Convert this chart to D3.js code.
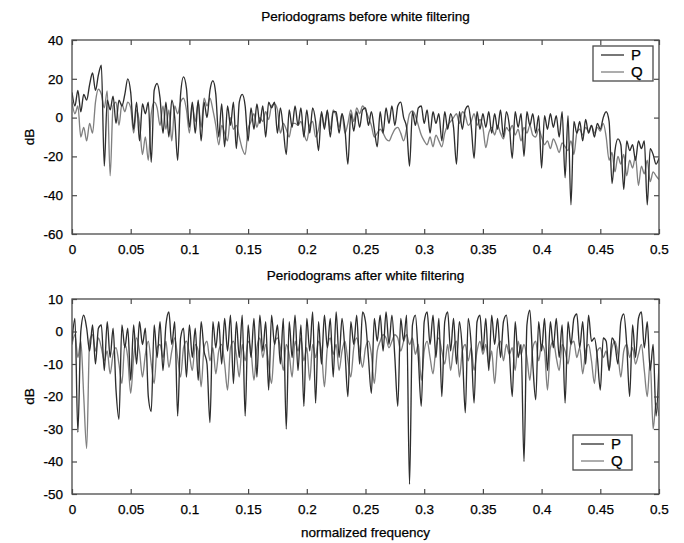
<!DOCTYPE html>
<html>
<head>
<meta charset="utf-8">
<script src="https://cdn.jsdelivr.net/npm/d3@7/dist/d3.min.js"></script>
<style>
  body { margin: 0; background: #fff; }
  svg text { font-family: "Liberation Sans", Arial, Helvetica, sans-serif; fill: #000; stroke: #000; stroke-width: 0.25px; }
</style>
</head>
<body>
<svg id="chart" width="684" height="543"></svg>
<script>
// Frequency grid: 201 bins from 0 to 0.5 (normalized frequency)
const freqStep = 0.0025;

const xTicks = [0, 0.05, 0.1, 0.15, 0.2, 0.25, 0.3, 0.35, 0.4, 0.45, 0.5];
const xTickLabels = ["0", "0.05", "0.1", "0.15", "0.2", "0.25", "0.3", "0.35", "0.4", "0.45", "0.5"];

const yTicksBefore = [40, 20, 0, -20, -40, -60];
const yTickLabelsBefore = ["40", "20", "0", "-20", "-40", "-60"];
const yTicksAfter = [10, 0, -10, -20, -30, -40, -50];
const yTickLabelsAfter = ["10", "0", "-10", "-20", "-30", "-40", "-50"];

const seriesNames = ["P", "Q"];

// Periodograms before white filtering (dB)
const beforeP = [
  13, 6, 14, 3, 12, 9, 17, 23, 14, 22,
  27, -25, 9, 4, 11, -3, 9, 6, 12, 20,
  13, -6, 8, -12, 7, 2, 8, -23, 14, 17.6,
  10, -8, 8, -10, 9, 0, -22, 12, 21, 15,
  -5, 8, -8, 9, -12, 8, 0, 14, 19, 12,
  -10, 7, -15, 6, -4, 8, -16, 8, 12, 6,
  -12, 5, -6, 7, -3, 6, -10, 8, 5, 8,
  -8, 5, -6, -19, 4, -5, 6, -4, 5, -10,
  4, -8, 5, -2, -17, 3, -6, 4, -10, 3,
  3, -8, 2, -6, -24, 2, -7, 3, -5, 4,
  5, -4, 3, -6, -15, 3, -8, 5, -3, 6,
  -4, 6, 8, 0, -5, -25, 3, -4, 5, 6,
  -3, 4, -8, 3, -3, 2, -12, 3, -6, 2,
  -5, -24, 3, -6, 4, 6, -4, -21, 3, -6,
  2, -5, 3, -8, 2, -6, 4, -10, 3, -4,
  -21, 3, -5, 2, -20, 3, -4, 2, -8, 1,
  -26, 1, -6, 2, -5, 1, -10, 3, -31, 1,
  -45, -2, -8, -2, -12, -1, -8, -4, -10, -3,
  -6, 0, 3, -2, -34, -17, -11, -14, -37, -12,
  -17, -14, -22, -12, -16, -12, -45, -16, -19, -24,
  -21
];
const beforeQ = [
  8, 2, 6, -10, -5, -12, -3, -8, 8, 14.6,
  12, 5, 13.8, -30, 6, 8, -4, 7, 3, 8,
  5, -8, 4, -3, -19, -10, -22, 2, 8, 5,
  -4, 6, -6, 4, -12, 6, 2, 8, 10, 4,
  -8, 6, -2, 8, -5, 10, 6, 10, 4, -4,
  -14, -4, -8, -12, 0, -6, -4, -10, -16, -19,
  -6, -2, 2, -5, 0, -2, 3, -1, 6, 7,
  4, -8, -3, -6, -10, -3, -3, -4, -2, -8,
  -12, -4, -2, -10, -6, 2, -4, 3, -6, 4,
  1, -5, 2, -8, -3, 4, -2, 5, 2, 6,
  4, 0, -4, -10, -8, -6, -8, -11, -12, -9,
  -6, -5, -8, -12, -6, 2, 3.4, 1, -4, -9,
  -12, -14, -10, -15, -9, -12, -15, -8, -4, -2,
  0, 2, -3, 3, 1, -4, -2, 2, -4, -1,
  -5, -15.5, -8, -5, -9, -4, -8, -11, -5, -7,
  -4, -9, -6, -12, -5, -8, -4, -9, -10, -6,
  -10, -14, -12, -16, -11, -14, -18, -13, -15, -17,
  -12, -19, -8, -6, -9, -5, -7, -4, -8, -5,
  -7, -3, -10, -22, -18, -28, -20, -24, -19, -30,
  -22, -26, -20, -35, -25, -29, -22, -33, -28, -30,
  -32
];

// Periodograms after white filtering (dB)
const afterP = [
  -3, 4, -31, 0, 5, 1, -6, 2, -10, 1,
  2, -12, 3, -8, 1, -18, -27, 2, -5, 1,
  -15, 2, -10, 3, -4, 1, -20, -24.6, 2, -8,
  3, -12, 2, 6, -4, 3, -26, -2, 1, -14,
  2, -8, 1, -15, 3, -6, -10, -28, 3, -5,
  3, -10, 4, -6, 5, -16, 3, -8, 5, -26,
  2, -8, 4, -14, 5, -6, 3, -18, 5, -4,
  2, -10, 4, -30, 3, -8, 5, -12, 2, -23,
  4, -6, 6, -22, 3, -10, 5, -5, 4, -14,
  6, -8, 4, -6, -20, 3, -4, 5, -10, 6,
  3, -8, -19, 4, -3, 5, -6, 6, -4, 5,
  -8, -23, 4, -3, 5, -47, 2, 5, -8, -23,
  3, 6, -4, 5, -8, 4, -20, 3, 6, -6,
  4, -10, 3, -6, -25, 4, -4, -22, 3, 5,
  -6, 4, -12, 5, -4, 4, -8, 3, 5, -6,
  -20, 3, -8, -4, -40, 2, 6.6, -10, -21, 3,
  -6, 4, -12, 3, -5, 4, -8, 2, -22, 3,
  -4, 4, 5.4, -5, 3, -10, 5, -3, -2, -8,
  -18, -2, -3, -12, -2, -4, -10, 3, 5.4, -4,
  -20, 2, -8, 4, 6, -5, 3, -12, -4, -26,
  -10
];
const afterQ = [
  -4, -1, -8, -3, -20, -36, -3, -1, -6, -2,
  -5, -9, -6, -13, -7, -5, -10, -16, -4, -8,
  -19, -8, -2, -6, -14, -7, -3, -10, -16, -5,
  -4, -8, -3, -11, -6, -2, -8, -14, -5, -3,
  -7, -12, -4, -6, -17, -5, -3, -9, -5, -13,
  -6, -4, -10, -18, -5, -3, -7, -14, -4, -9,
  -3, -6, -15, -5, -2, -8, -4, -10, -16, -4,
  -2, -5, -12, -4, -7, -14, -3, -6, -2, -9,
  -5, -15, -4, -8, -3, -6, -17, -5, -2, -7,
  -4, -12, -6, -3, -9, -14, -5, -2, -6, -11,
  -5, -3, -7, -16, -6, -3, -1, -2, -5, -3,
  -1, -2, -6, -3, -1, -4, -2, -7, -4, -15,
  -6, -3, -8, -13, -5, -2, -6, -10, -4, -12,
  -5, -3, -14, -6, -4, -9, -5, -12, -6, -3,
  -7, -4, -10, -6, -16, -5, -3, -9, -4, -7,
  -5, -12, -3, -7, -4, -8, -15, -5, -3, -9,
  -4, -6, -18, -5, -3, -8, -12, -4, -6, -10,
  -4, -3, -8, -5, -13, -6, -4, -9, -16, -6,
  -5, -8, -6, -12, -5, -3, -7, -14, -6, -4,
  -8, -5, -10, -7, -4, -12, -20, -9, -30, -22,
  -26
];

const left = 72, right = 659;

const panels = [
  { title: "Periodograms before white filtering", titleY: 17,
    top: 40, bottom: 234, domain: [-60, 40],
    ticks: yTicksBefore, tickLabels: yTickLabelsBefore,
    series: [beforeP, beforeQ],
    legend: { x: 593, y: 46, w: 60, h: 35 } },
  { title: "Periodograms after white filtering", titleY: 276,
    top: 299, bottom: 494, domain: [-50, 10],
    ticks: yTicksAfter, tickLabels: yTickLabelsAfter,
    series: [afterP, afterQ],
    legend: { x: 573, y: 435, w: 59, h: 35 } }
];

const colors = ["#2e2e2e", "#808080"];
const frameColor = "#4a4a4a";

const svg = d3.select("#chart");
const x = d3.scaleLinear().domain([0, 0.5]).range([left, right]);

panels.forEach((p, pi) => {
  const y = d3.scaleLinear().domain(p.domain).range([p.bottom, p.top]);
  const g = svg.append("g");

  const clipId = "clip" + pi;
  svg.append("clipPath").attr("id", clipId)
    .append("rect").attr("x", left).attr("y", p.top)
    .attr("width", right - left).attr("height", p.bottom - p.top);

  // traces: P drawn on top of Q
  const line = d3.line()
    .x((d, i) => x(i * freqStep))
    .y(d => y(d))
    .curve(d3.curveMonotoneX);

  [1, 0].forEach(si => {
    g.append("path")
      .datum(p.series[si])
      .attr("clip-path", `url(#${clipId})`)
      .attr("fill", "none")
      .attr("stroke", colors[si])
      .attr("stroke-width", 1.35)
      .attr("stroke-linejoin", "round")
      .attr("d", line);
  });

  // axes with inward ticks on all four sides
  const axB = d3.axisBottom(x).tickValues(xTicks)
    .tickFormat((d, i) => xTickLabels[i]).tickSizeInner(-5).tickSizeOuter(0).tickPadding(10);
  const axT = d3.axisTop(x).tickValues(xTicks).tickFormat("").tickSizeInner(-5).tickSizeOuter(0);
  const axL = d3.axisLeft(y).tickValues(p.ticks).tickFormat((d, i) => p.tickLabels[i])
    .tickSizeInner(-5).tickSizeOuter(0).tickPadding(9);
  const axR = d3.axisRight(y).tickValues(p.ticks).tickFormat("").tickSizeInner(-5).tickSizeOuter(0);

  const axes = [
    g.append("g").attr("transform", `translate(0,${p.bottom})`).call(axB),
    g.append("g").attr("transform", `translate(0,${p.top})`).call(axT),
    g.append("g").attr("transform", `translate(${left},0)`).call(axL),
    g.append("g").attr("transform", `translate(${right},0)`).call(axR)
  ];
  axes.forEach(a => {
    a.select(".domain").remove();
    a.selectAll("line").attr("stroke", frameColor).attr("stroke-width", 1.2);
    a.selectAll("text").attr("font-size", 13.5).attr("fill", "#000")
      .attr("font-family", '"Liberation Sans", Arial, sans-serif');
  });

  g.append("rect")
    .attr("x", left).attr("y", p.top)
    .attr("width", right - left).attr("height", p.bottom - p.top)
    .attr("fill", "none").attr("stroke", frameColor).attr("stroke-width", 1.3);

  // titles
  g.append("text").attr("x", (left + right) / 2).attr("y", p.titleY)
    .attr("text-anchor", "middle").attr("dominant-baseline", "middle")
    .attr("font-size", 13.5).text(p.title);

  g.append("text")
    .attr("transform", `translate(30,${(p.top + p.bottom) / 2}) rotate(-90)`)
    .attr("text-anchor", "middle").attr("dominant-baseline", "middle")
    .attr("font-size", 13.5).text("dB");

  // legend
  const L = p.legend;
  const lg = g.append("g").attr("transform", `translate(${L.x},${L.y})`);
  lg.append("rect").attr("width", L.w).attr("height", L.h)
    .attr("fill", "#fff").attr("stroke", frameColor).attr("stroke-width", 1.3);
  seriesNames.forEach((name, si) => {
    const ry = 9 + si * 17;
    lg.append("line").attr("x1", 8).attr("x2", 31).attr("y1", ry).attr("y2", ry)
      .attr("stroke", colors[si]).attr("stroke-width", 1.3);
    lg.append("text").attr("x", 38).attr("y", ry + 1).attr("dominant-baseline", "middle")
      .attr("font-size", 15).text(name);
  });
});

svg.append("text").attr("x", (left + right) / 2).attr("y", 533)
  .attr("text-anchor", "middle").attr("dominant-baseline", "middle")
  .attr("font-size", 13.5).text("normalized frequency");
</script>
</body>
</html>
